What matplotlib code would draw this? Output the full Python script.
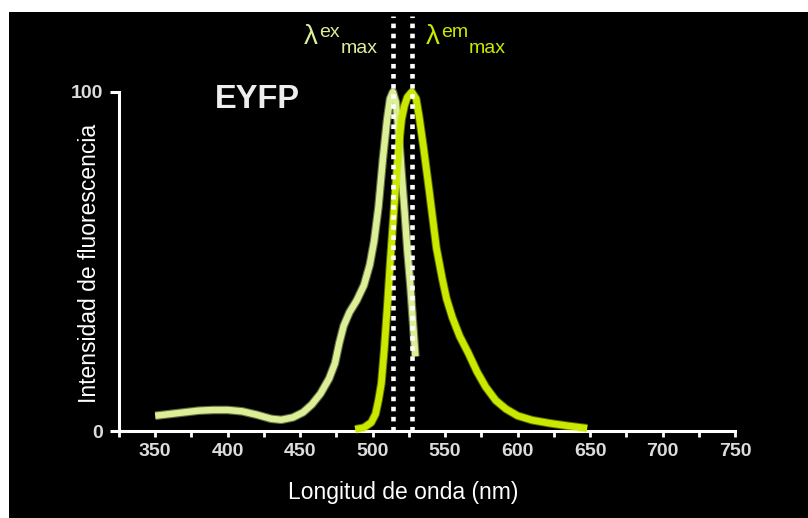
import matplotlib
matplotlib.use("Agg")
import matplotlib.pyplot as plt
import matplotlib.patheffects as pe
from matplotlib.patches import Rectangle

plt.rcParams['font.family'] = ['Liberation Sans', 'DejaVu Sans']

# EYFP excitation spectrum (wavelength nm, relative intensity %)
ex_nm = [350, 360, 370, 380, 390, 400, 410, 420, 430, 437, 445, 452, 458, 464,
         470, 474, 477, 480, 484, 489, 494, 498, 501, 504, 507, 510, 512, 514,
         516, 518, 520, 522, 524, 526, 528, 529.5]
ex_val = [4.5, 5.0, 5.5, 6.0, 6.2, 6.2, 5.8, 4.8, 3.6, 3.3, 4.0, 5.5, 7.8, 11,
          15.5, 20, 26, 31, 35, 38.5, 43, 49, 56, 66, 80, 92, 98, 100,
          97, 88, 76, 65, 53, 43, 31, 22]

# EYFP emission spectrum
em_nm = [488, 494, 499, 502, 504, 506, 508, 510, 512, 514, 516, 518, 520, 522,
         524, 527, 530, 532, 535, 539, 544, 548, 551, 555, 560, 566, 572, 578,
         585, 592, 600, 610, 622, 635, 648]
em_val = [0.5, 1.0, 2.5, 5, 9, 14, 24, 36, 49, 61, 73, 84, 92, 96,
          98.5, 100, 98, 93, 84, 71, 54, 45, 39, 33.5, 28, 23, 17.5, 13,
          9, 6.5, 4.5, 3.2, 2.3, 1.5, 0.8]

# Wavelengths of maximum excitation / emission
ex_max = 514
em_max = 527

x_ticks = list(range(325, 751, 25))
x_tick_labels = [str(v) if v % 50 == 0 else '' for v in x_ticks]
y_ticks = [0, 100]
y_tick_labels = ['0', '100']

EX_COLOR = '#dcef96'
EM_COLOR = '#cbe800'

W, H = 808, 518
fig = plt.figure(figsize=(W / 100, H / 100), dpi=100, facecolor='black')


def fx(px):
    return px / W


def fy(py):
    return 1 - py / H


# white margin strips on the left and top
fig.patches.append(Rectangle((0, 0), fx(9), 1, transform=fig.transFigure,
                             facecolor='white', edgecolor='none', zorder=20))
fig.patches.append(Rectangle((0, fy(12)), 1, 1 - fy(12), transform=fig.transFigure,
                             facecolor='white', edgecolor='none', zorder=20))

ax = fig.add_axes([fx(119), fy(431), fx(735) - fx(119), fy(92) - fy(431)])
ax.set_facecolor('none')
ax.set_xlim(325, 750)
ax.set_ylim(0, 100)

for side in ('top', 'right'):
    ax.spines[side].set_visible(False)
for side in ('left', 'bottom'):
    ax.spines[side].set_color('white')
    ax.spines[side].set_linewidth(2.2)
    ax.spines[side].set_capstyle('projecting')

ax.set_xticks(x_ticks)
ax.set_xticklabels(x_tick_labels)
ax.set_yticks(y_ticks)
ax.set_yticklabels(y_tick_labels)
ax.tick_params(axis='x', direction='out', length=4, width=2.0, color='white',
               labelcolor='#dcdcdc', labelsize=14, pad=5)
ax.tick_params(axis='y', direction='out', length=6.5, width=2.2, color='white',
               labelcolor='#dcdcdc', labelsize=14, pad=5)
for lab in ax.get_xticklabels() + ax.get_yticklabels():
    lab.set_fontweight('bold')


def glow(c):
    return [pe.Stroke(linewidth=6.2, foreground=c, alpha=0.45), pe.Normal()]


ax.plot(ex_nm, ex_val, color=EX_COLOR, lw=4.6, solid_capstyle='butt',
        solid_joinstyle='round', clip_on=False, zorder=3, path_effects=glow(EX_COLOR))
ax.plot(em_nm, em_val, color=EM_COLOR, lw=4.8, solid_capstyle='butt',
        solid_joinstyle='round', clip_on=False, zorder=4, path_effects=glow(EM_COLOR))

# dotted markers at the two maxima, reaching up into the header area
ax.vlines([ex_max, em_max], 0, 122.4, colors='white', lw=3.3,
          linestyles=(0, (1.0, 1.2)), clip_on=False, zorder=5)

# header labels
fig.text(fx(304), fy(44), 'λ', color=EX_COLOR, fontsize=20, ha='left', va='baseline')
fig.text(fx(319), fy(37), 'ex', color=EX_COLOR, fontsize=14, ha='left', va='baseline')
fig.text(fx(341), fy(53), 'max', color=EX_COLOR, fontsize=14, ha='left', va='baseline')

fig.text(fx(426), fy(44), 'λ', color=EM_COLOR, fontsize=20, ha='left', va='baseline')
fig.text(fx(441), fy(37), 'em', color=EM_COLOR, fontsize=14, ha='left', va='baseline')
fig.text(fx(469), fy(53), 'max', color=EM_COLOR, fontsize=14, ha='left', va='baseline')

fig.text(fx(257), fy(99), 'EYFP', color='#eeeeee', fontsize=23.5, fontweight='bold',
         ha='center', va='center')

fig.text(fx(90), fy(263), 'Intensidad de fluorescencia', color='white', fontsize=16.5,
         rotation=90, ha='center', va='center')
fig.text(fx(403), fy(492), 'Longitud de onda (nm)', color='white', fontsize=16.5,
         ha='center', va='center')

fig.savefig('out.png', dpi=100, facecolor=fig.get_facecolor())
